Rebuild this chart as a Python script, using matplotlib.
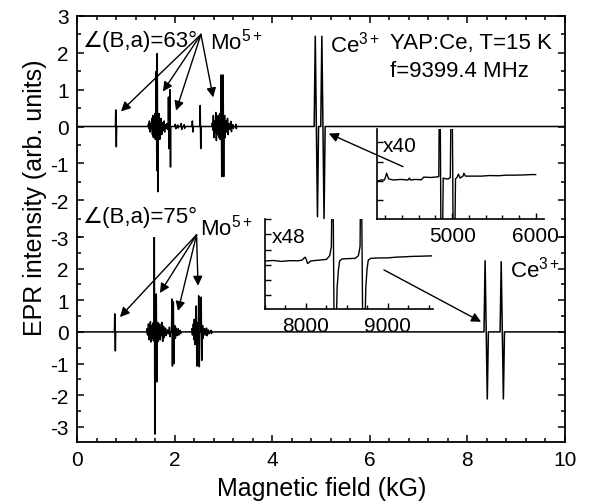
import numpy as np
import matplotlib
matplotlib.use('Agg')
import matplotlib.pyplot as plt
from matplotlib.ticker import MultipleLocator

plt.rcParams['font.family'] = ['Liberation Sans', 'DejaVu Sans']
plt.rcParams['mathtext.fontset'] = 'custom'
plt.rcParams['mathtext.rm'] = 'Liberation Sans'
plt.rcParams['mathtext.it'] = 'Liberation Sans:italic'
plt.rcParams['axes.unicode_minus'] = False

# ---- data ----
# field in kG, intensity in arb. units; each line is (position, max, min)
# angle 63 deg, strong Mo5+ lines
mo63_pos = [0.80, 1.63, 1.65, 1.88, 1.91, 2.37, 2.53, 2.96, 3.00]
mo63_hi = [0.45, 1.50, 1.98, 0.80, 1.00, 0.15, 0.57, 1.40, 1.40]
mo63_lo = [-0.55, -1.20, -1.77, -0.60, -1.10, -0.15, -0.60, -1.36, -1.36]
# angle 63 deg, weak hyperfine structure
hf63_pos = [1.47, 1.49, 1.52, 1.54, 1.56, 1.58, 1.60, 1.67, 1.69, 1.71, 1.73,
            1.76, 1.79, 1.82, 1.85, 2.02, 2.07, 2.14, 2.20, 2.78, 2.80, 2.83,
            2.85, 2.87, 2.90, 2.93, 3.03, 3.06, 3.09, 3.12, 3.16, 3.20, 3.26]
hf63_amp = [0.06, 0.15, 0.08, 0.22, 0.30, 0.18, 0.35, 0.28, 0.35, 0.15, 0.22,
            0.10, 0.15, 0.05, 0.08, 0.06, 0.04, 0.08, 0.05, 0.10, 0.30, 0.15,
            0.38, 0.22, 0.30, 0.35, 0.30, 0.15, 0.22, 0.08, 0.14, 0.05, 0.06]
# angle 63 deg, Ce3+ lines
ce63_pos = [4.905, 5.04]
ce63_hi = [2.45, 2.45]
ce63_lo = [-2.45, -2.50]

# angle 75 deg
mo75_pos = [0.78, 1.59, 1.63, 1.95, 1.98, 2.45, 2.50, 2.55]
mo75_hi = [0.57, 3.04, 1.20, 1.04, 0.95, 0.82, 1.14, 1.10]
mo75_lo = [-0.60, -3.23, -1.58, -1.08, -1.00, -1.08, -1.10, -0.90]
hf75_pos = [1.44, 1.47, 1.49, 1.51, 1.53, 1.56, 1.66, 1.68, 1.70, 1.72, 1.75,
            1.78, 1.82, 1.86, 1.90, 2.01, 2.04, 2.08, 2.12, 2.36, 2.39, 2.41,
            2.43, 2.48, 2.58, 2.62, 2.66, 2.70, 2.75]
hf75_amp = [0.10, 0.25, 0.15, 0.32, 0.20, 0.28, 0.30, 0.15, 0.25, 0.12, 0.30,
            0.18, 0.12, 0.06, 0.15, 0.20, 0.12, 0.10, 0.05, 0.10, 0.25, 0.40,
            0.30, 0.28, 0.20, 0.10, 0.12, 0.06, 0.05]
ce75_pos = [8.385, 8.715]
ce75_hi = [2.25, 2.22]
ce75_lo = [-2.12, -2.12]

# insets (field in G, magnified intensity)
in40_x = [4110, 4150, 4190, 4205, 4215, 4240, 4300, 4380, 4470, 4488, 4500,
          4560, 4630, 4650, 4660, 4740, 4800, 4840, 4852, 4872, 4893, 4915,
          4950, 4978, 4995, 5020, 5040, 5060, 5075, 5095, 5130, 5140, 5160,
          5250, 5350, 5450, 5550, 5650, 5750, 5850, 5950, 6000]
in40_y = [0.00, 0.05, 0.05, 0.25, 0.40, 0.10, 0.05, 0.08, 0.05, 0.15, 0.05,
          0.08, 0.06, 0.15, 0.20, 0.18, 0.20, 0.22, 8.0, -8.0, 0.15, 0.12,
          0.10, 0.18, 8.0, -8.0, 0.10, 0.20, 0.35, 0.15, 0.25, 0.40, 0.25,
          0.25, 0.25, 0.28, 0.27, 0.30, 0.30, 0.31, 0.33, 0.33]
in48_x = [7510, 7600, 7700, 7800, 7900, 7950, 7990, 8000, 8020, 8060, 8150,
          8250, 8290, 8310, 8325, 8350, 8380, 8395, 8410, 8440, 8500, 8600,
          8640, 8660, 8672, 8700, 8730, 8745, 8760, 8790, 8900, 9000, 9100,
          9200, 9300, 9400, 9500, 9530]
in48_y = [0.25, 0.28, 0.22, 0.27, 0.26, 0.30, 0.50, 0.40, 0.08, 0.25, 0.30,
          0.35, 0.60, 1.20, 9.0, -9.0, -1.5, -0.4, 0.25, 0.38, 0.40, 0.42,
          0.60, 1.20, 9.0, -9.0, -1.5, -0.3, 0.30, 0.42, 0.45, 0.45, 0.50,
          0.52, 0.55, 0.56, 0.58, 0.58]

FIELD_RANGE = (0.0, 10.0)


def build_trace(pos, hi, lo, width):
    """Flat baseline with a derivative-shaped spike for every line."""
    order = np.argsort(pos)
    xs, ys = [FIELD_RANGE[0]], [0.0]
    for i in order:
        x, w = pos[i], width[i]
        xs += [x - w, x - w / 2, x + w / 2, x + w]
        ys += [0.0, hi[i], lo[i], 0.0]
    xs.append(FIELD_RANGE[1])
    ys.append(0.0)
    return xs, ys


def spectrum(mo_pos, mo_hi, mo_lo, hf_pos, hf_amp, ce_pos, ce_hi, ce_lo):
    pos = list(mo_pos) + list(hf_pos) + list(ce_pos)
    hi = list(mo_hi) + list(hf_amp) + list(ce_hi)
    lo = list(mo_lo) + [-a for a in hf_amp] + list(ce_lo)
    width = [0.012] * (len(mo_pos) + len(hf_pos)) + [0.045] * len(ce_pos)
    return build_trace(pos, hi, lo, width)


fig = plt.figure(figsize=(5.9, 5.02), dpi=100)
W, H = 590.0, 502.0
left, right = 77 / W, 565 / W
ax1 = fig.add_axes([left, 1 - 238 / H, right - left, (238 - 17) / H])
ax2 = fig.add_axes([left, 1 - 443 / H, right - left, (443 - 238) / H])

for ax in (ax1, ax2):
    ax.set_facecolor('none')
    ax.set_xlim(*FIELD_RANGE)
    ax.xaxis.set_major_locator(MultipleLocator(2))
    ax.xaxis.set_minor_locator(MultipleLocator(0.4))
    ax.yaxis.set_major_locator(MultipleLocator(1))
    ax.yaxis.set_minor_locator(MultipleLocator(0.5))
    ax.tick_params(which='both', direction='in', right=True, width=1.1,
                   labelsize=15, pad=6)
    ax.tick_params(which='major', length=5)
    ax.tick_params(which='minor', length=3)
    for s in ax.spines.values():
        s.set_linewidth(1.3)

ax1.set_ylim(-3, 3)
ax1.spines['bottom'].set_visible(False)
ax1.tick_params(which='both', top=True, bottom=False, labelbottom=False)
ax1.set_yticks([3, 2, 1, 0, -1, -2, -3])

ax2.set_ylim(-3.48, 3)
ax2.spines['top'].set_visible(False)
ax2.tick_params(which='both', top=False)
ax2.set_yticks([2, 1, 0, -1, -2, -3])
ax2.set_xticks([0, 2, 4, 6, 8, 10])

x63, y63 = spectrum(mo63_pos, mo63_hi, mo63_lo, hf63_pos, hf63_amp,
                    ce63_pos, ce63_hi, ce63_lo)
x75, y75 = spectrum(mo75_pos, mo75_hi, mo75_lo, hf75_pos, hf75_amp,
                    ce75_pos, ce75_hi, ce75_lo)
ax1.plot(x63, y63, color='black', lw=1.1)
ax2.plot(x75, y75, color='black', lw=1.1)

fig.text(35 / W, 1 - 198 / H, 'EPR intensity (arb. units)', rotation=90,
         ha='center', va='center', fontsize=18)
fig.text(322 / W, 1 - 489 / H, 'Magnetic field (kG)', ha='center',
         va='center', fontsize=18)

arrow = dict(arrowstyle='-|>', color='black', lw=1, mutation_scale=14,
             shrinkA=0, shrinkB=0)

# labels and arrows, upper spectrum
ax1.text(0.10, 2.34, '∠(B,a)=63°', fontsize=16, va='center')
ax1.text(2.73, 2.34, 'Mo$^{5+}$', fontsize=16, va='center')
for tx, ty in [(0.90, 0.41), (1.76, 0.95), (2.03, 0.43), (2.79, 0.79)]:
    ax1.annotate('', xy=(tx, ty), xytext=(2.54, 2.50), arrowprops=arrow)
ax1.text(5.18, 2.26, 'Ce$^{3+}$', fontsize=16, va='center')
ax1.text(6.41, 2.28, 'YAP:Ce, T=15 K', fontsize=16, va='center')
ax1.text(6.41, 1.52, 'f=9399.4 MHz', fontsize=16, va='center')
ax1.annotate('', xy=(5.16, -0.19), xytext=(6.68, -1.09), arrowprops=arrow)

# labels and arrows, lower spectrum
ax1.text(0.10, -2.45, '∠(B,a)=75°', fontsize=16, va='center')
ax1.text(2.52, -2.72, 'Mo$^{5+}$', fontsize=16, va='center')
for tx, ty in [(0.88, 0.47), (1.70, 1.23), (2.07, 0.66), (2.48, 1.46)]:
    ax2.annotate('', xy=(tx, ty), xytext=(2.45, 3.07), arrowprops=arrow)
ax2.text(8.87, 2.0, 'Ce$^{3+}$', fontsize=16, va='center')
ax2.annotate('', xy=(8.28, 0.32), xytext=(6.29, 1.96), arrowprops=arrow)

# insets
ax3 = fig.add_axes([377 / W, 1 - 220 / H, 167 / W, 90 / H])
ax4 = fig.add_axes([265 / W, 1 - 310 / H, 168 / W, 90 / H])
for ax, minor in ((ax3, 200), (ax4, 250)):
    ax.set_facecolor('none')
    ax.spines['top'].set_visible(False)
    ax.spines['right'].set_visible(False)
    for s in ('left', 'bottom'):
        ax.spines[s].set_linewidth(1.2)
    ax.xaxis.set_major_locator(MultipleLocator(1000))
    ax.xaxis.set_minor_locator(MultipleLocator(minor))
    ax.yaxis.set_major_locator(MultipleLocator(1))
    ax.tick_params(which='both', direction='in', labelsize=15, pad=5,
                   labelleft=False, width=1)
    ax.tick_params(which='major', length=4)
    ax.tick_params(which='minor', length=3)

ax3.set_xlim(4100, 6100)
ax3.set_ylim(-1.97, 2.69)
ax3.plot(in40_x, in40_y, color='black', lw=1.0)
ax3.text(4170, 1.81, 'x40', fontsize=15, va='center')

ax4.set_xlim(7500, 9550)
ax4.set_ylim(-2.9, 3.0)
ax4.plot(in48_x, in48_y, color='black', lw=1.0)
ax4.text(7585, 1.88, 'x48', fontsize=15, va='center')

fig.savefig('out.png', dpi=100)
